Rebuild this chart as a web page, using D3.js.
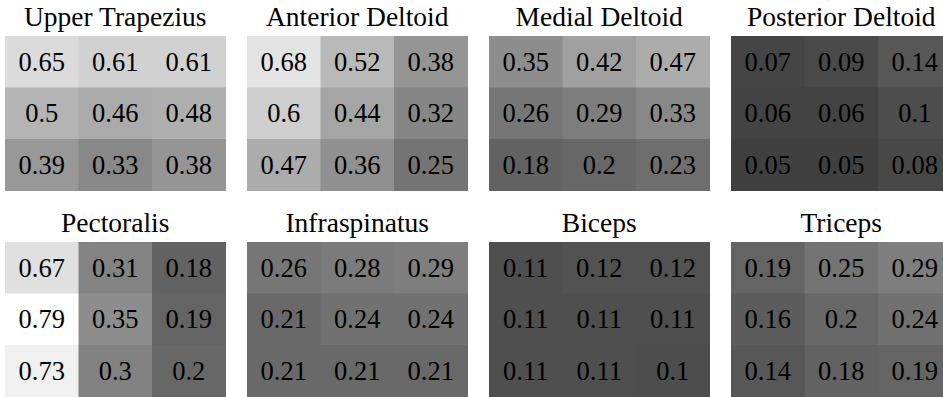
<!DOCTYPE html>
<html>
<head>
<meta charset="utf-8">
<script src="https://cdn.jsdelivr.net/npm/d3@7"></script>
</head>
<body style="margin:0">
<div class="board"></div>
<script>
var opts = {
  width: 943,
  height: 397,
  cellW: 73.5,
  cellH: 51.5,
  colStep: 242,
  rowTops: [36, 242],
  left: 5,
  font: "'Liberation Serif'"
}

var muscles = ['Upper Trapezius', 'Anterior Deltoid', 'Medial Deltoid', 'Posterior Deltoid',
               'Pectoralis', 'Infraspinatus', 'Biceps', 'Triceps'];

var rows = ['r1', 'r2', 'r3'];
var cols = ['c1', 'c2', 'c3'];

// each muscle: 3 rows x 3 columns, read left to right, top to bottom
var upperTrapezius   = [[0.65, 0.61, 0.61], [0.5, 0.46, 0.48], [0.39, 0.33, 0.38]];
var anteriorDeltoid  = [[0.68, 0.52, 0.38], [0.6, 0.44, 0.32], [0.47, 0.36, 0.25]];
var medialDeltoid    = [[0.35, 0.42, 0.47], [0.26, 0.29, 0.33], [0.18, 0.2, 0.23]];
var posteriorDeltoid = [[0.07, 0.09, 0.14], [0.06, 0.06, 0.1], [0.05, 0.05, 0.08]];
var pectoralis       = [[0.67, 0.31, 0.18], [0.79, 0.35, 0.19], [0.73, 0.3, 0.2]];
var infraspinatus    = [[0.26, 0.28, 0.29], [0.21, 0.24, 0.24], [0.21, 0.21, 0.21]];
var biceps           = [[0.11, 0.12, 0.12], [0.11, 0.11, 0.11], [0.11, 0.11, 0.1]];
var triceps          = [[0.19, 0.25, 0.29], [0.16, 0.2, 0.24], [0.14, 0.18, 0.19]];

var panelValues = [upperTrapezius, anteriorDeltoid, medialDeltoid, posteriorDeltoid,
                   pectoralis, infraspinatus, biceps, triceps];

var svg = d3.select('.board').append('svg')
            .attr('width', opts.width)
            .attr('height', opts.height);

var x = d3.scaleBand().domain(cols).range([0, opts.cellW * 3]);
var y = d3.scaleBand().domain(rows).range([0, opts.cellH * 3]);

// darker grey for small values, white at the top
var grey = d3.scaleLinear().domain([0.05, 0.79]).range([64, 255]);
var fill = function(v){ var g = Math.round(grey(v)); return d3.rgb(g, g, g); };

muscles.forEach(function(name, p){
  var px = opts.left + (p % 4) * opts.colStep;
  var py = opts.rowTops[Math.floor(p / 4)];

  var g = svg.append('g').attr('transform', 'translate(' + px + ',' + py + ')');

  var cells = [];
  panelValues[p].forEach(function(row, i){
    row.forEach(function(v, j){
      cells.push({ r: rows[i], c: cols[j], v: v });
    });
  });

  g.selectAll('rect')
   .data(cells)
   .enter()
   .append('rect')
     .attr('x', function(d){ return x(d.c); })
     .attr('y', function(d){ return y(d.r); })
     .attr('width', x.bandwidth() + 0.5)
     .attr('height', y.bandwidth() + 0.5)
     .attr('fill', function(d){ return fill(d.v); });

  g.selectAll('text.val')
   .data(cells)
   .enter()
   .append('text')
     .attr('class', 'val')
     .attr('x', function(d){ return x(d.c) + x.bandwidth() / 2; })
     .attr('y', function(d){ return y(d.r) + y.bandwidth() / 2 + 9; })
     .attr('text-anchor', 'middle')
     .attr('font-size', 26.5)
     .style('font-family', opts.font)
     .text(function(d){ return d.v; });

  g.append('text')
   .attr('x', opts.cellW * 1.5)
   .attr('y', -10)
   .attr('text-anchor', 'middle')
   .attr('font-size', 27.5)
   .style('font-family', opts.font)
   .text(name);
});
</script>
</body>
</html>
